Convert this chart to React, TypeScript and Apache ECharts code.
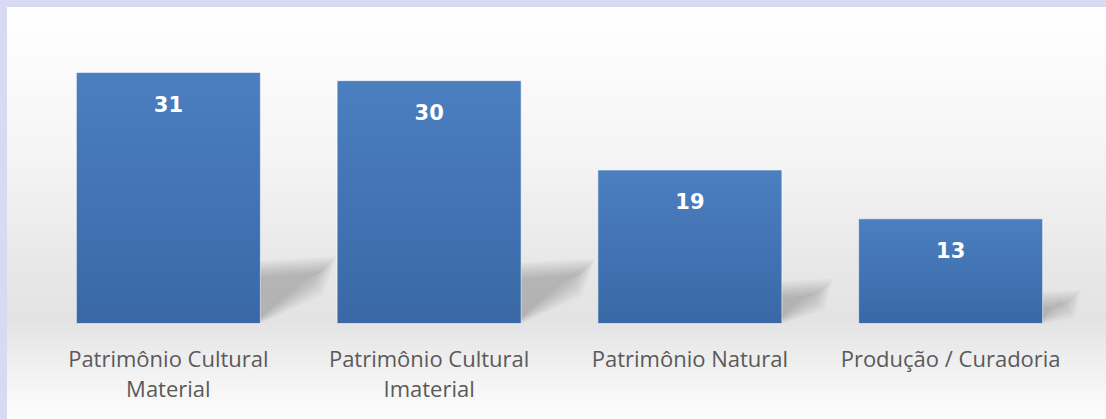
import React, { useEffect, useRef } from "react";
import * as echarts from "echarts";

const categories = [
  "Patrimônio Cultural\nMaterial",
  "Patrimônio Cultural\nImaterial",
  "Patrimônio Natural",
  "Produção / Curadoria",
];
const values = [31, 30, 19, 13];

const BAR_W = 185;

export default function App() {
  const ref = useRef<HTMLDivElement>(null);
  useEffect(() => {
    const chart = echarts.init(ref.current!, null, { renderer: "svg" });
    const option: any = {
      animation: false,
      backgroundColor: "#d9d9f2",
      graphic: [
        {
          type: "rect",
          z: -10,
          silent: true,
          shape: { x: 7, y: 7, width: 1099, height: 412 },
          style: {
            fill: new echarts.graphic.LinearGradient(0, 0, 0, 1, [
              { offset: 0, color: "#ffffff" },
              { offset: 0.08, color: "#fdfdfd" },
              { offset: 0.35, color: "#f5f5f5" },
              { offset: 0.62, color: "#e8e8e8" },
              { offset: 0.76, color: "#e3e3e3" },
              { offset: 0.88, color: "#f1f1f1" },
              { offset: 1, color: "#fdfdfd" },
            ]),
          },
        },
      ],
      grid: { left: 38, right: 25, top: 39.5, bottom: 95, containLabel: false },
      xAxis: {
        type: "category",
        data: categories,
        axisLine: { show: false },
        axisTick: { show: false },
        axisLabel: {
          interval: 0,
          margin: 19,
          fontFamily: "Open Sans",
          fontSize: 22,
          lineHeight: 30,
          color: "#5a5a5a",
        },
      },
      yAxis: {
        type: "value",
        min: 0,
        max: 35,
        show: false,
        splitLine: { show: false },
      },
      series: [
        {
          type: "custom",
          z: 1,
          silent: true,
          data: values.map((v, i) => [i, v]),
          renderItem: (params: any, api: any) => {
            const i = api.value(0);
            const v = api.value(1);
            const top = api.coord([i, v]);
            const base = api.coord([i, 0]);
            const h = base[1] - top[1];
            const r = base[0] + BAR_W / 2;
            const b = base[1];
            const ext = h * 0.26;
            const sh = h * 0.21;
            const layers: any[] = [];
            const n = 9;
            for (let k = 0; k < n; k++) {
              const e = (n - 1 - k) * 2 - 6;
              layers.push({
                type: "polygon",
                shape: {
                  points: [
                    [r - 2, b - 3 + e * 0.3],
                    [r - 2, b - sh - e],
                    [r + ext + e, b - sh * 1.08 - e],
                    [r + ext * 0.8 + e, b - sh * 0.75 + e],
                  ],
                },
                style: { fill: "rgba(70,70,70,0.04)" },
              });
            }
            return { type: "group", children: layers };
          },
        },
        {
          type: "bar",
          z: 2,
          data: values,
          barWidth: BAR_W,
          itemStyle: {
            color: new echarts.graphic.LinearGradient(0, 0, 0, 1, [
              { offset: 0, color: "#4b7fc0" },
              { offset: 1, color: "#3a68a6" },
            ]),
            borderColor: "rgba(255,255,255,0.55)",
            borderWidth: 1,
          },
          label: {
            show: true,
            position: "insideTop",
            distance: 22,
            color: "#ffffff",
            fontFamily: "DejaVu Sans",
            fontWeight: "bold",
            fontSize: 21,
          },
        },
      ],
    };
    chart.setOption(option);
    return () => chart.dispose();
  }, []);
  return (
    <div
      ref={ref}
      style={{ position: "fixed", left: 0, top: 0, width: 1106, height: 419 }}
    />
  );
}
